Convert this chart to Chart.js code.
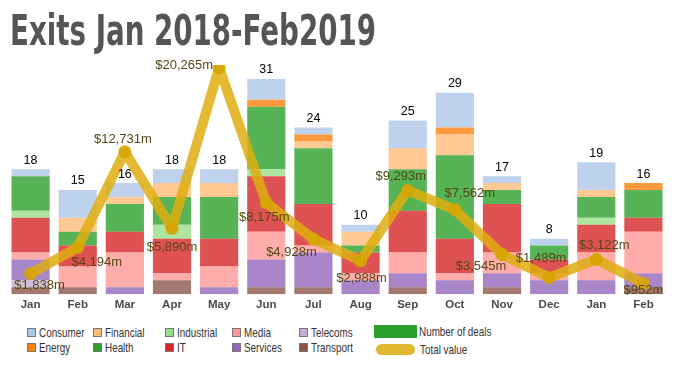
<!DOCTYPE html>
<html>
<head>
<meta charset="utf-8">
<script src="https://cdn.jsdelivr.net/npm/chart.js@4.4.1/dist/chart.umd.min.js"></script>
<style>
  html, body { margin: 0; padding: 0; background: #fff; }
  #wrap { position: relative; width: 675px; height: 377px; overflow: hidden; }
  #title {
    position: absolute; left: 10px; top: 6px;
    font-family: "Liberation Sans Narrow", "DejaVu Sans Condensed", sans-serif;
    font-weight: bold; font-size: 42px; color: #555;
    white-space: nowrap; transform-origin: left top;
  }
  #chartBox { position: absolute; left: 0; top: 0; width: 675px; height: 318px; }
  .lg { position: absolute; font-family: "Liberation Sans", Arial, sans-serif;
        font-size: 13px; color: #333; line-height: 13px; white-space: nowrap; }
  .lg i { display: inline-block; width: 7px; height: 7px; border: 1px solid #777;
          vertical-align: 0px; margin-right: 3px; }
  .lg b { font-weight: normal; display: inline-block; transform: scaleX(0.76); transform-origin: left center; }
</style>
</head>
<body>
<div id="wrap">
  <div id="chartBox"><canvas id="chart" width="675" height="318"></canvas></div>
  <div id="title">Exits Jan 2018-Feb2019</div>
  <div id="legend"></div>
</div>
<script>
const months = ['Jan','Feb','Mar','Apr','May','Jun','Jul','Aug','Sep','Oct','Nov','Dec','Jan','Feb'];

// deals per sector per month
const consumer   = [1,4,2,2,2,3,1,1,4,5,1,1,4,0];
const energy     = [0,0,0,0,0,1,1,0,0,1,0,0,0,1];
const financial  = [0,2,1,2,2,0,1,2,3,3,1,0,1,0];
const health     = [5,2,4,4,6,9,8,1,6,12,2,2,3,4];
const industrial = [1,0,0,2,0,1,0,0,0,0,0,0,1,0];
const it         = [5,3,3,5,4,8,6,3,6,5,7,2,4,2];
const media      = [1,3,5,1,3,4,1,1,3,1,3,1,4,6];
const services   = [3,0,1,0,1,4,5,2,2,2,2,2,2,2];
const telecoms   = [1,0,0,0,0,0,0,0,0,0,0,0,0,0];
const transport  = [1,1,0,2,0,1,1,0,1,0,1,0,0,1];

// total value, $m
const totalValue = [1838,4194,12731,5890,20265,8175,4928,2988,9293,7562,3545,1489,3122,952];

// stacking order, bottom first
const sectors = [
  { name: 'Transport',  data: transport,  color: '#8c564b' },
  { name: 'Telecoms',   data: telecoms,   color: '#c5b0d5' },
  { name: 'Services',   data: services,   color: '#9467bd' },
  { name: 'Media',      data: media,      color: '#ff9896' },
  { name: 'IT',         data: it,         color: '#d62728' },
  { name: 'Industrial', data: industrial, color: '#98df8a' },
  { name: 'Health',     data: health,     color: '#2ca02c' },
  { name: 'Financial',  data: financial,  color: '#ffbb78' },
  { name: 'Energy',     data: energy,     color: '#ff7f0e' },
  { name: 'Consumer',   data: consumer,   color: '#aec7e8' }
];

// label nudges for the value labels (px, relative to each point)
const valueLabelShift = [[9,12],[19,15],[-2,-12],[0,19],[-35,-2],[-2,15],[-22,13],[1,18],[-7,-14],[15,-16],[-21,12],[-8,-19],[8,-14],[0,7]];

function hexA(hex, a) {
  const n = parseInt(hex.slice(1), 16);
  return `rgba(${n >> 16},${(n >> 8) & 255},${n & 255},${a})`;
}

const labelPlugin = {
  id: 'labels',
  afterDatasetsDraw(chart) {
    const ctx = chart.ctx;
    const y = chart.scales.y;
    const y2 = chart.scales.y2;
    const x = chart.scales.x;
    ctx.save();
    ctx.textAlign = 'center';
    ctx.textBaseline = 'middle';
    ctx.fillStyle = '#000';
    ctx.font = '12.5px "Liberation Sans", Arial, sans-serif';
    months.forEach((m, i) => {
      const total = sectors.reduce((s, d) => s + d.data[i], 0);
      ctx.fillText(String(total), x.getPixelForValue(i), y.getPixelForValue(total) - 9);
    });
    ctx.fillStyle = '#564814';
    ctx.font = '13px "Liberation Sans", Arial, sans-serif';
    totalValue.forEach((v, i) => {
      const px = x.getPixelForValue(i) + valueLabelShift[i][0];
      const py = y2.getPixelForValue(v) + valueLabelShift[i][1];
      ctx.fillText('$' + v.toLocaleString('en-US') + 'm', px, py);
    });
    ctx.restore();
  }
};

const datasets = sectors.map(s => ({
  type: 'bar',
  label: s.name,
  data: s.data,
  backgroundColor: hexA(s.color, 0.8),
  borderWidth: 0,
  stack: 'deals',
  yAxisID: 'y',
  order: 1,
  barPercentage: 0.81,
  categoryPercentage: 1
}));

datasets.push({
  type: 'line',
  label: 'Total value',
  data: totalValue,
  yAxisID: 'y2',
  borderColor: 'rgba(223,174,16,0.85)',
  borderWidth: 10,
  tension: 0,
  pointRadius: 6.5,
  pointBackgroundColor: 'rgba(214,166,0,0.9)',
  pointBorderWidth: 0,
  borderJoinStyle: 'round',
  order: 0
});

new Chart(document.getElementById('chart'), {
  data: { labels: months, datasets: datasets },
  plugins: [labelPlugin],
  options: {
    responsive: false,
    animation: false,
    layout: { padding: { top: 65, left: 7, right: 8, bottom: 2 } },
    plugins: { legend: { display: false }, tooltip: { enabled: false } },
    scales: {
      x: {
        stacked: true,
        grid: { display: false, drawTicks: false },
        border: { display: false },
        ticks: { padding: 4, color: '#4a4a4a', font: { size: 11.5, weight: 'bold', family: '"Liberation Sans", Arial, sans-serif' } }
      },
      y: { stacked: true, display: false, min: 0, max: 33 },
      y2: { display: false, min: 0, max: 20500 }
    }
  }
});

// squeeze the title to the condensed width of the original
const titleEl = document.getElementById('title');
const tw = titleEl.getBoundingClientRect().width;
titleEl.style.transform = `scaleX(${366 / tw})`;

// legend in the original's 2-row grid
const legendCols = [27, 93, 165, 232, 299];
const legendOrder = ['Consumer','Energy','Financial','Health','Industrial','IT','Media','Services','Telecoms','Transport'];
const legendEl = document.getElementById('legend');
legendOrder.forEach((name, k) => {
  const s = sectors.find(d => d.name === name);
  const el = document.createElement('div');
  el.className = 'lg';
  el.style.left = legendCols[Math.floor(k / 2)] + 'px';
  el.style.top = (k % 2 === 0 ? 326 : 341) + 'px';
  el.innerHTML = `<i style="background:${s.color}"></i><b>${name}</b>`;
  legendEl.appendChild(el);
});
const deals = document.createElement('div');
deals.className = 'lg';
deals.style.left = '374px'; deals.style.top = '325px';
deals.innerHTML = '<span style="display:inline-block;width:43px;height:13px;background:#2ca02c;vertical-align:-2px;margin-right:2px"></span><b>Number of deals</b>';
legendEl.appendChild(deals);
const tv = document.createElement('div');
tv.className = 'lg';
tv.style.left = '376px'; tv.style.top = '343px';
tv.innerHTML = '<span style="display:inline-block;width:39px;height:11px;border-radius:6px;background:#e0b830;vertical-align:-1px;margin-right:5px"></span><b>Total value</b>';
legendEl.appendChild(tv);
</script>
</body>
</html>
